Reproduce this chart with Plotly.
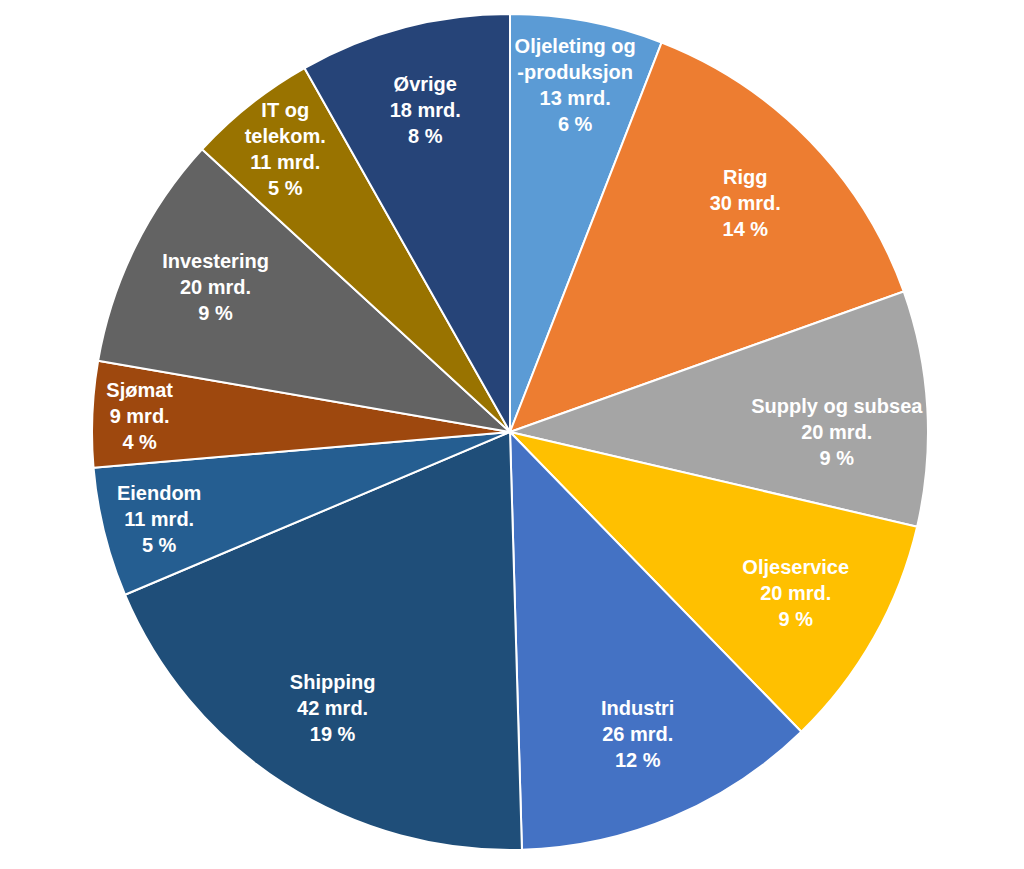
import plotly.graph_objects as go

labels = ["Oljeleting og<br>-produksjon", "Rigg", "Supply og subsea", "Oljeservice",
          "Industri", "Shipping", "Eiendom", "Sjømat", "Investering",
          "IT og<br>telekom.", "Øvrige"]
values = [13, 30, 20, 20, 26, 42, 11, 9, 20, 11, 18]
pct = ["6 %", "14 %", "9 %", "9 %", "12 %", "19 %", "5 %", "4 %", "9 %", "5 %", "8 %"]
colors = ["#5B9BD5", "#ED7D31", "#A5A5A5", "#FFC000", "#4472C4", "#1F4E79",
          "#255E91", "#9E480E", "#636363", "#997300", "#264478"]

dom = dict(x=[84/1024, 920/1024], y=[27/869, 863/869])

fig = go.Figure()
fig.add_trace(go.Pie(
    labels=labels, values=values,
    sort=False, direction="clockwise", rotation=0,
    marker=dict(colors=colors, line=dict(color="white", width=2)),
    textinfo="none", domain=dom, showlegend=False,
))
fig.add_trace(go.Pie(
    labels=labels, values=values, customdata=pct,
    sort=False, direction="clockwise", rotation=0, hole=0.57,
    marker=dict(colors=["rgba(0,0,0,0)"] * len(values), line=dict(width=0)),
    texttemplate="<b>%{label}<br>%{value} mrd.<br>%{customdata}</b>",
    textposition="inside", insidetextorientation="horizontal",
    textfont=dict(family="Liberation Sans, Arial", size=20, color="white"),
    domain=dom, showlegend=False, hoverinfo="skip",
))
fig.update_layout(width=1024, height=869, margin=dict(l=0, r=0, t=0, b=0),
                  paper_bgcolor="white", uniformtext=dict(minsize=20, mode="show"))
fig.write_html("out.html")
